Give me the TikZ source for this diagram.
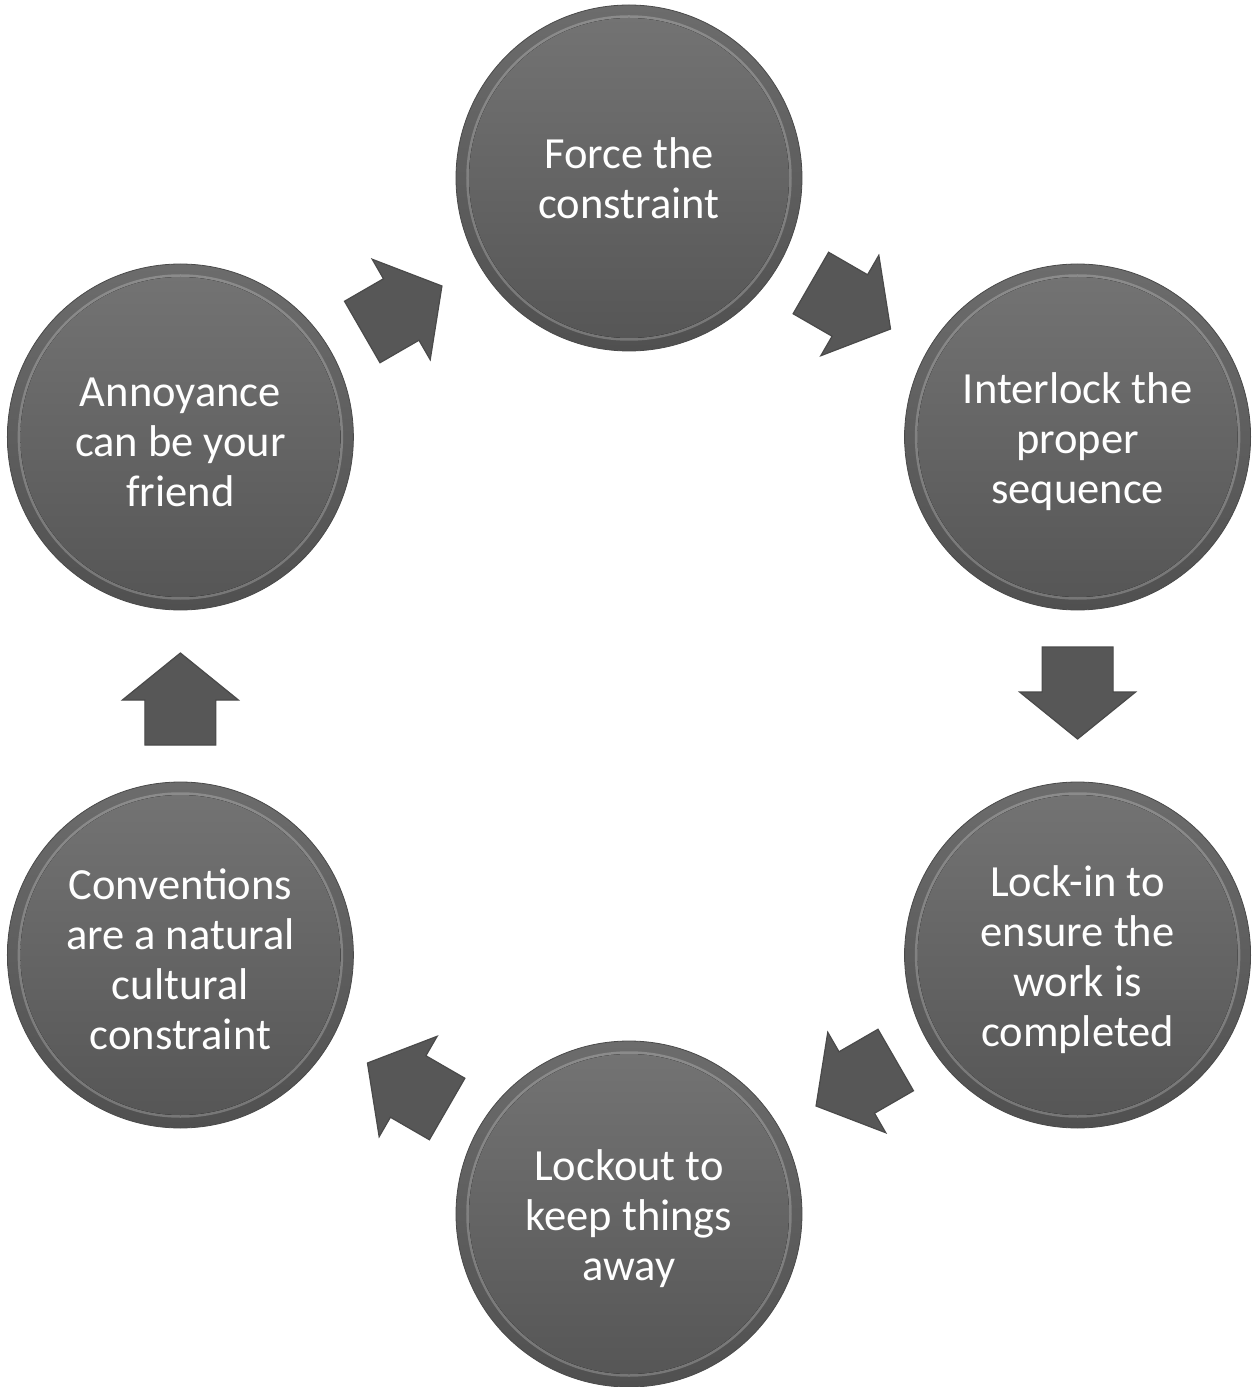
\documentclass[tikz,border=0pt]{standalone}
\usepackage{fontspec}
\setmainfont{Carlito}
\usetikzlibrary{calc}
\definecolor{bandtop}{HTML}{6C6C6C}
\definecolor{bandbot}{HTML}{505050}
\definecolor{intop}{HTML}{747474}
\definecolor{inbot}{HTML}{555555}
\definecolor{edgec}{HTML}{4A4A4A}
\definecolor{arrowc}{HTML}{575757}
\definecolor{arrowedge}{HTML}{4A4A4A}
\newcommand\topstrut{\rule{0pt}{40pt}}
\tikzset{
  stage/.style={circle, minimum size=346pt, inner sep=0pt, draw=edgec, line width=0.8pt,
    top color=bandtop, bottom color=bandbot, text=white,
    font=\fontsize{44.5}{50}\selectfont, align=center,
    path picture={
      \fill[top color=intop, bottom color=inbot] (path picture bounding box.center) circle (160pt);
      \draw[white, opacity=0.22, line width=2.5pt] (path picture bounding box.center) circle (161.5pt);
    }},
  flowarrow/.style={fill=arrowc, draw=arrowedge, line width=1.2pt, line join=miter},
  pics/cycarrow/.style={code={
    \path[flowarrow] (-49,-35.5) -- (-4,-35.5) -- (-4,-58) -- (43,0) -- (-4,58) -- (-4,35.5) -- (-49,35.5) -- cycle;
  }}
}
\begin{document}
\begin{tikzpicture}[x=1pt,y=1pt]
\useasboundingbox (-629,-691) rectangle (622,696);
\node[stage] (top) at (0,518) {Force the\\constraint};
\node[stage] (ur) at (448.6,259) {\topstrut Interlock the\\proper\\sequence};
\node[stage] (lr) at (448.6,-259) {\topstrut Lock-in to\\ensure the\\work is\\completed};
\node[stage] (bot) at (0,-518) {\topstrut Lockout to\\keep things\\away};
\node[stage] (ll) at (-448.6,-259) {\topstrut Conventions\\are a natural\\cultural\\constraint};
\node[stage] (ul) at (-448.6,259) {\topstrut Annoyance\\can be your\\friend};
\pic[rotate=30] at ($(ul)!0.5!(top)$) {cycarrow};
\pic[rotate=-30] at ($(top)!0.5!(ur)$) {cycarrow};
\pic[rotate=-90] at ($(ur)!0.5!(lr)$) {cycarrow};
\pic[rotate=-150] at ($(lr)!0.5!(bot)$) {cycarrow};
\pic[rotate=150] at ($(bot)!0.5!(ll)$) {cycarrow};
\pic[rotate=90] at ($(ll)!0.5!(ul)$) {cycarrow};
\end{tikzpicture}
\end{document}
